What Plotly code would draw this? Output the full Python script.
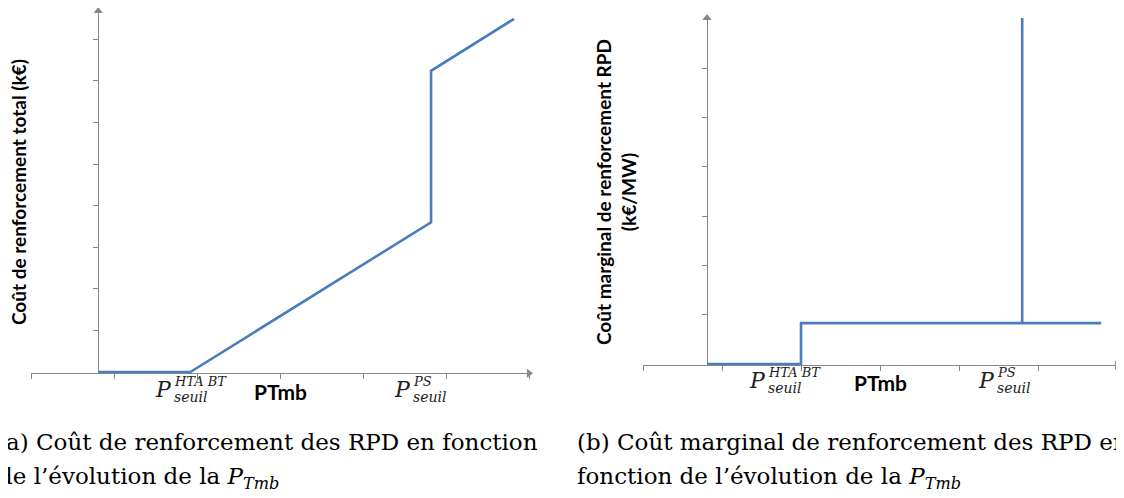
import plotly.graph_objects as go

W, H = 1124, 498
OFF = 8  # page body margin of the browser

# ---- data (conceptual curves) ----
# (a) total reinforcement cost vs PTmb
cost_x = [0.81, 1.92, 4.82, 4.82, 5.82]
cost_y = [0.0, 0.0, 3.6, 7.24, 8.49]
# (b) marginal reinforcement cost vs PTmb
marg_x = [0.81, 2.0, 2.0, 5.8]
marg_y = [0.0, 0.0, 0.83, 0.83]
spike_x = [4.8, 4.8]
spike_y = [0.83, 7.2]

x_ticks = [0, 1, 2, 3, 4, 5, 6]
y_ticks_a = [1, 2, 3, 4, 5, 6, 7, 8]
y_ticks_b = [1, 2, 3, 4, 5, 6]

y_axis_pos_a = 0.81
y_axis_pos_b = 0.81
p_htabt_a, p_ps_a = 1.70, 4.58
p_htabt_b, p_ps_b = 1.56, 4.46
ptmb_a, ptmb_b = 3.0, 3.0

BLUE = "#4a7ebb"
GREY = "#878787"
SERIF_MATH = "DejaVu Serif"
CAP_FONT = "DejaVu Serif"


def px_x(p):
    return (p - OFF) / W


def px_y(p):
    return 1 - (p - OFF) / H


# geometry (pixels in the final picture)
a_left, a_right, a_base, a_top = 31, 529, 372, 11
b_left, b_right, b_base, b_top = 643, 1117, 364, 18
a_unit_y = 41.6
b_unit_y = 49.3
a_ymin = -0.03
b_ymin = -0.025
a_ytop = (a_base - a_top) / a_unit_y
b_ytop = (b_base - b_top) / b_unit_y

fig = go.Figure()
fig.add_trace(go.Scatter(x=cost_x, y=cost_y, mode="lines",
                         line=dict(color=BLUE, width=2.6), xaxis="x", yaxis="y",
                         showlegend=False, hoverinfo="skip"))
fig.add_trace(go.Scatter(x=marg_x, y=marg_y, mode="lines",
                         line=dict(color=BLUE, width=2.6), xaxis="x2", yaxis="y2",
                         showlegend=False, hoverinfo="skip"))
fig.add_trace(go.Scatter(x=spike_x, y=spike_y, mode="lines",
                         line=dict(color=BLUE, width=2.6), xaxis="x2", yaxis="y2",
                         showlegend=False, hoverinfo="skip"))

# axis arrowheads
for xa, ya, xv, ytop, ymin in [("x", "y", y_axis_pos_a, a_ytop, a_ymin),
                               ("x2", "y2", y_axis_pos_b, b_ytop, b_ymin)]:
    fig.add_trace(go.Scatter(x=[xv], y=[ytop], mode="markers", xaxis=xa, yaxis=ya,
                             marker=dict(symbol="triangle-up", size=8, color=GREY),
                             cliponaxis=False, showlegend=False, hoverinfo="skip"))
    fig.add_trace(go.Scatter(x=[6], y=[ymin], mode="markers", xaxis=xa, yaxis=ya,
                             marker=dict(symbol="triangle-right", size=8, color=GREY),
                             cliponaxis=False, showlegend=False, hoverinfo="skip"))

axis_common = dict(showgrid=False, zeroline=False, showline=True, linecolor=GREY,
                   linewidth=1.4, ticks="outside", ticklen=5, tickwidth=1,
                   tickcolor=GREY, showticklabels=False, fixedrange=True,
                   layer="below traces")

fig.update_layout(
    width=W, height=H, margin=dict(l=0, r=0, t=0, b=0),
    paper_bgcolor="white", plot_bgcolor="white", showlegend=False,
    xaxis=dict(domain=[px_x(a_left), px_x(a_right)], range=[0, 6], anchor="y",
               tickvals=x_ticks, **axis_common),
    yaxis=dict(domain=[px_y(a_base - a_ymin * a_unit_y), px_y(a_top)],
               range=[a_ymin, a_ytop], anchor="free",
               position=px_x(a_left + y_axis_pos_a * (a_right - a_left) / 6),
               tickvals=y_ticks_a, **axis_common),
    xaxis2=dict(domain=[px_x(b_left), px_x(b_right)], range=[0, 6], anchor="y2",
                tickvals=x_ticks, **axis_common),
    yaxis2=dict(domain=[px_y(b_base - b_ymin * b_unit_y), px_y(b_top)],
                range=[b_ymin, b_ytop], anchor="free",
                position=px_x(b_left + y_axis_pos_b * (b_right - b_left) / 6),
                tickvals=y_ticks_b, **axis_common),
)

ann = []


def p_label(xr, yr, xv, sup, dy):
    out = []
    out.append(dict(x=xv, y=0, xref=xr, yref=yr, text="<i>P</i>", showarrow=False,
                    xanchor="right", yanchor="middle", yshift=-17 - dy, xshift=2,
                    font=dict(family=SERIF_MATH, size=22, color="#222")))
    out.append(dict(x=xv, y=0, xref=xr, yref=yr, text="<i>%s</i>" % sup, showarrow=False,
                    xanchor="left", yanchor="middle", yshift=-9 - dy, xshift=0,
                    font=dict(family=SERIF_MATH, size=13, color="#222")))
    out.append(dict(x=xv, y=0, xref=xr, yref=yr, text="<i>seuil</i>", showarrow=False,
                    xanchor="left", yanchor="middle", yshift=-25 - dy, xshift=0,
                    font=dict(family=SERIF_MATH, size=14, color="#222")))
    return out


ann += p_label("x", "y", p_htabt_a, "HTA BT", 0)
ann += p_label("x", "y", p_ps_a, "PS", 0)
ann += p_label("x2", "y2", p_htabt_b, "HTA BT", -1)
ann += p_label("x2", "y2", p_ps_b, "PS", -1)

for xr, yr, xv, dy in [("x", "y", ptmb_a, 0), ("x2", "y2", ptmb_b, -1)]:
    ann.append(dict(x=xv, y=0, xref=xr, yref=yr, text="<b>PTmb</b>", showarrow=False,
                    xanchor="center", yanchor="middle", yshift=-19 - dy,
                    font=dict(family="Lato", size=21, color="black")))

# y-axis titles
ann.append(dict(x=px_x(19), y=px_y(192), xref="paper", yref="paper",
                text="<b>Coût de renforcement total (k€)</b>", textangle=-90,
                showarrow=False, xanchor="center", yanchor="middle", borderpad=0,
                font=dict(family="Lato", size=19, color="black")))
ann.append(dict(x=px_x(616), y=px_y(192), xref="paper", yref="paper",
                text="<b>Coût marginal de renforcement RPD<br>(k€/MW)</b>", textangle=-90,
                showarrow=False, xanchor="center", yanchor="middle", borderpad=0,
                font=dict(family="Lato", size=19, color="black")))

# captions
cap = dict(family=CAP_FONT, size=23, color="black")
ann.append(dict(x=px_x(-4), y=px_y(442), xref="paper", yref="paper", xanchor="left",
                yanchor="middle", showarrow=False, font=cap, borderpad=0,
                text="(a) Coût de renforcement des RPD en fonction"))
ann.append(dict(x=px_x(-3), y=px_y(478), xref="paper", yref="paper", xanchor="left",
                yanchor="middle", showarrow=False, font=cap, borderpad=0,
                text="de l’évolution de la <i>P</i><sub><i>Tmb</i></sub>"))
ann.append(dict(x=px_x(576), y=px_y(442), xref="paper", yref="paper", xanchor="left",
                yanchor="middle", showarrow=False, font=cap, borderpad=0,
                text="(b) Coût marginal de renforcement des RPD en"))
ann.append(dict(x=px_x(576), y=px_y(478), xref="paper", yref="paper", xanchor="left",
                yanchor="middle", showarrow=False, font=cap, borderpad=0,
                text="fonction de l’évolution de la <i>P</i><sub><i>Tmb</i></sub>"))

fig.update_layout(annotations=ann)
fig.write_html("out.html")
